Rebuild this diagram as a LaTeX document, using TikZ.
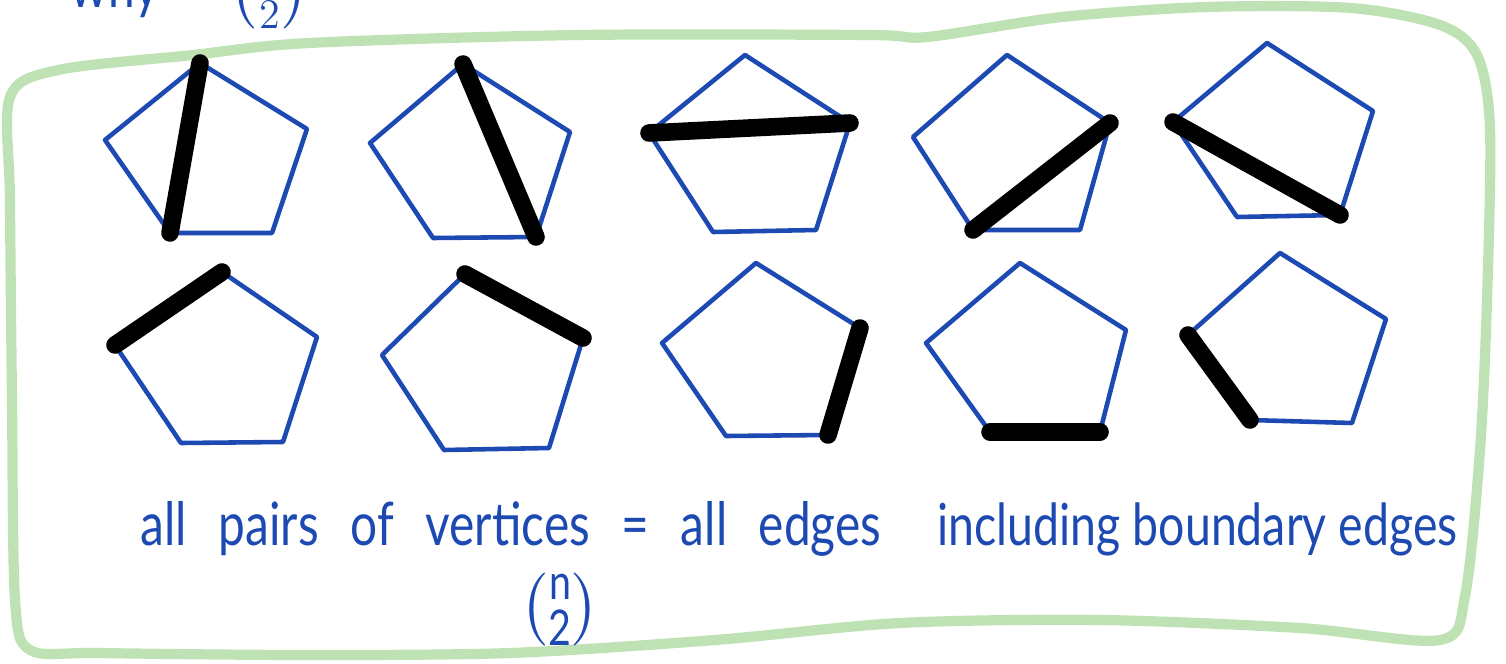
\documentclass[tikz,border=0pt]{standalone}
\usepackage{amsmath}
\usepackage{fontspec}
\newfontfamily\handfont[FakeStretch=0.8]{Lato}
\definecolor{ink}{RGB}{28,74,178}
\definecolor{marker}{RGB}{190,226,180}
\tikzset{
  pent/.style={draw=ink, line width=1.3pt, line join=round, line cap=round},
  chord/.style={draw=black, line width=5pt, line cap=round},
  hand/.style={text=ink, font=\handfont\fontsize{17}{20}\selectfont, inner sep=0pt},
}

\begin{document}
\begin{tikzpicture}[x=0.01cm, y=-0.01cm]
  \useasboundingbox (0,0) rectangle (1506,664);
  % frame
  \path[draw=marker, line width=2.9pt, line join=round]
    plot[smooth cycle, tension=0.5] coordinates {(10,97) (58,70) (193,55) (309,43) (579,35) (869,35) (927,37) (1062,17) (1207,7) (1351,8) (1440,25) (1477,55) (1490,128) (1487,300) (1480,450) (1465,596) (1440,640) (1300,628) (1100,620) (900,623) (715,640) (510,653) (305,655) (100,653) (30,650) (15,600) (12,400) (10,200)};
  % title, cut off at the top
  \node[hand, anchor=base west] (why) at (70,8) {why\hspace{20pt}$\binom{n}{2}$};
  % upper row
  \path (200,63) coordinate (A1) (307,129) coordinate (B1) (272,233) coordinate (C1) (170,233) coordinate (D1) (105,140) coordinate (E1);
  \path[pent] (A1)--(B1)--(C1)--(D1)--(E1)--cycle;
  \path[chord] (A1)to(D1);
  \path (463,64) coordinate (A2) (570,132) coordinate (B2) (536,237) coordinate (C2) (433,238) coordinate (D2) (370,143) coordinate (E2);
  \path[pent] (A2)--(B2)--(C2)--(D2)--(E2)--cycle;
  \path[chord] (A2)to(C2);
  \path (745,55) coordinate (A3) (850,123) coordinate (B3) (816,230) coordinate (C3) (713,232) coordinate (D3) (649,133) coordinate (E3);
  \path[pent] (A3)--(B3)--(C3)--(D3)--(E3)--cycle;
  \path[chord] (E3)to(B3);
  \path (1007,55) coordinate (A4) (1110,123) coordinate (B4) (1080,230) coordinate (C4) (973,230) coordinate (D4) (913,137) coordinate (E4);
  \path[pent] (A4)--(B4)--(C4)--(D4)--(E4)--cycle;
  \path[chord] (B4)to(D4);
  \path (1267,43) coordinate (A5) (1373,111) coordinate (B5) (1340,215) coordinate (C5) (1237,217) coordinate (D5) (1173,122) coordinate (E5);
  \path[pent] (A5)--(B5)--(C5)--(D5)--(E5)--cycle;
  \path[chord] (E5)to(C5);
  % lower row
  \path (222,272) coordinate (A6) (317,337) coordinate (B6) (283,442) coordinate (C6) (181,443) coordinate (D6) (115,345) coordinate (E6);
  \path[pent] (A6)--(B6)--(C6)--(D6)--(E6)--cycle;
  \path[chord] (E6)to(A6);
  \path (465,274) coordinate (A7) (583,338) coordinate (B7) (549,448) coordinate (C7) (444,450) coordinate (D7) (382,355) coordinate (E7);
  \path[pent] (A7)--(B7)--(C7)--(D7)--(E7)--cycle;
  \path[chord] (A7)to(B7);
  \path (756,263) coordinate (A8) (860,328) coordinate (B8) (828,435) coordinate (C8) (726,436) coordinate (D8) (662,343) coordinate (E8);
  \path[pent] (A8)--(B8)--(C8)--(D8)--(E8)--cycle;
  \path[chord] (B8)to(C8);
  \path (1020,263) coordinate (A9) (1126,330) coordinate (B9) (1100,432) coordinate (C9) (990,432) coordinate (D9) (926,343) coordinate (E9);
  \path[pent] (A9)--(B9)--(C9)--(D9)--(E9)--cycle;
  \path[chord] (D9)to(C9);
  \path (1280,253) coordinate (A10) (1386,319) coordinate (B10) (1352,423) coordinate (C10) (1250,420) coordinate (D10) (1188,335) coordinate (E10);
  \path[pent] (A10)--(B10)--(C10)--(D10)--(E10)--cycle;
  \path[chord] (E10)to(D10);
  % notes
  \node[hand, anchor=base west] (allpairs) at (140,545) {\spaceskip=9pt all pairs of vertices = all edges};
  \node[hand, anchor=base west, font=\handfont\fontsize{16.5}{20}\selectfont] (incl) at (937,545) {including boundary edges};
  \node[hand] (count) at (560,610) {$\left(\vcenter{\hbox{\handfont\fontsize{14}{14}\selectfont\shortstack{n\\2}}}\right)$};
\end{tikzpicture}
\end{document}
